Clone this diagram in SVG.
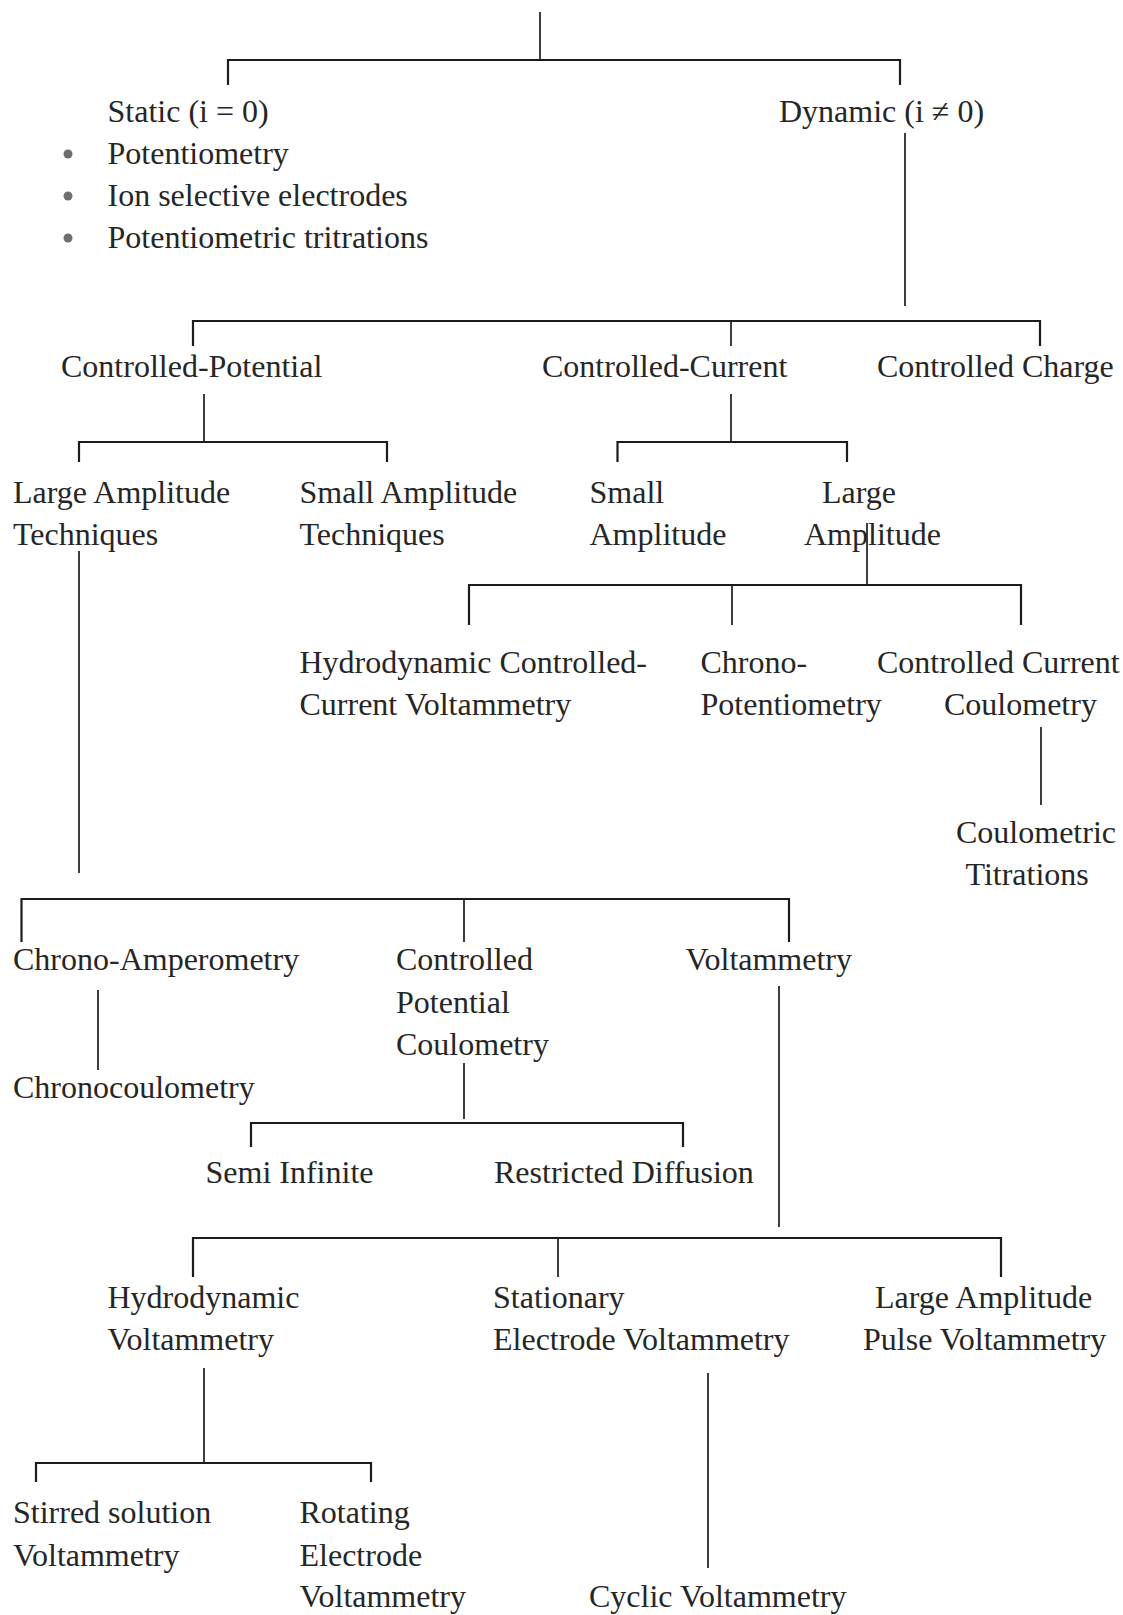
<svg xmlns="http://www.w3.org/2000/svg" width="1123" height="1615" viewBox="0 0 1123 1615">
<style>
text{font-family:"Liberation Serif","Times New Roman",serif;font-size:32px;fill:#262626}
.c path{fill:none;stroke:#1c1c1c;stroke-width:1.7}
.c .h{stroke-width:2.2}
.b{fill:#6e6e6e}
</style>
<rect width="1123" height="1615" fill="#ffffff"/>
<g class="c" id="connectors">
<path d="M540 12 V60"/>
<path class="h" d="M228 85 V60 H900 V85"/>
<path d="M905 133 V306"/>
<path class="h" d="M193 346 V321 H1040 V346"/>
<path d="M731 321 V346"/>
<path d="M204 394 V442"/>
<path class="h" d="M79 462 V442 H387 V462"/>
<path d="M731 394 V442"/>
<path class="h" d="M617.5 462 V442 H847 V462"/>
<path d="M867 523 V585"/>
<path class="h" d="M469 625 V585 H1021 V625"/>
<path d="M732 585 V625"/>
<path d="M1041 727 V805"/>
<path d="M79 551 V873"/>
<path class="h" d="M21.5 942 V899 H789 V942"/>
<path d="M464 899 V942"/>
<path d="M98 990 V1070"/>
<path d="M464 1063 V1119"/>
<path class="h" d="M251 1147 V1123 H683 V1147"/>
<path d="M779 986 V1227"/>
<path class="h" d="M193 1277 V1238 H1001 V1277"/>
<path d="M558 1238 V1277"/>
<path d="M204 1368 V1463"/>
<path class="h" d="M36 1482 V1463 H371 V1482"/>
<path d="M708 1373 V1568"/>
</g>
<g id="static">
<text x="107.5" y="122">Static (i = 0)</text>
<circle class="b" cx="68" cy="154" r="4.5"/>
<text x="107.5" y="164">Potentiometry</text>
<circle class="b" cx="68" cy="196" r="4.5"/>
<text x="107.5" y="206">Ion selective electrodes</text>
<circle class="b" cx="68" cy="238" r="4.5"/>
<text x="107.5" y="248">Potentiometric tritrations</text>
</g>
<g id="dynamic"><text x="779" y="122">Dynamic (i ≠ 0)</text></g>
<g id="controlled-potential"><text x="61" y="377">Controlled-Potential</text></g>
<g id="controlled-current"><text x="542" y="377">Controlled-Current</text></g>
<g id="controlled-charge"><text x="877" y="377">Controlled Charge</text></g>
<g id="cp-large"><text x="13" y="503">Large Amplitude</text><text x="13" y="545">Techniques</text></g>
<g id="cp-small"><text x="299.5" y="503">Small Amplitude</text><text x="299.5" y="545">Techniques</text></g>
<g id="cc-small"><text x="589.5" y="503">Small</text><text x="589.5" y="545">Amplitude</text></g>
<g id="cc-large"><text x="822" y="503">Large</text><text x="804" y="545">Amplitude</text></g>
<g id="hccv"><text x="299.5" y="673">Hydrodynamic Controlled-</text><text x="299.5" y="715">Current Voltammetry</text></g>
<g id="chronopotentiometry"><text x="700.5" y="673">Chrono-</text><text x="700.5" y="715">Potentiometry</text></g>
<g id="ccc"><text x="877" y="673">Controlled Current</text><text x="944" y="715">Coulometry</text></g>
<g id="coulometric-titrations"><text x="956" y="843">Coulometric</text><text x="965.5" y="885">Titrations</text></g>
<g id="chronoamperometry"><text x="13" y="970">Chrono-Amperometry</text></g>
<g id="cpc"><text x="396" y="970">Controlled</text><text x="396" y="1013">Potential</text><text x="396" y="1055">Coulometry</text></g>
<g id="voltammetry"><text x="685.5" y="970">Voltammetry</text></g>
<g id="chronocoulometry"><text x="13" y="1098">Chronocoulometry</text></g>
<g id="semi-infinite"><text x="205.5" y="1183">Semi Infinite</text></g>
<g id="restricted-diffusion"><text x="494" y="1183">Restricted Diffusion</text></g>
<g id="hydrodynamic-voltammetry"><text x="107.5" y="1308">Hydrodynamic</text><text x="107.5" y="1350">Voltammetry</text></g>
<g id="sev"><text x="493" y="1308">Stationary</text><text x="493" y="1350">Electrode Voltammetry</text></g>
<g id="lapv"><text x="875" y="1308">Large Amplitude</text><text x="863" y="1350">Pulse Voltammetry</text></g>
<g id="stirred"><text x="13" y="1523">Stirred solution</text><text x="13" y="1566">Voltammetry</text></g>
<g id="rotating"><text x="299.5" y="1523">Rotating</text><text x="299.5" y="1566">Electrode</text><text x="299.5" y="1607">Voltammetry</text></g>
<g id="cyclic"><text x="589" y="1607">Cyclic Voltammetry</text></g>
</svg>
